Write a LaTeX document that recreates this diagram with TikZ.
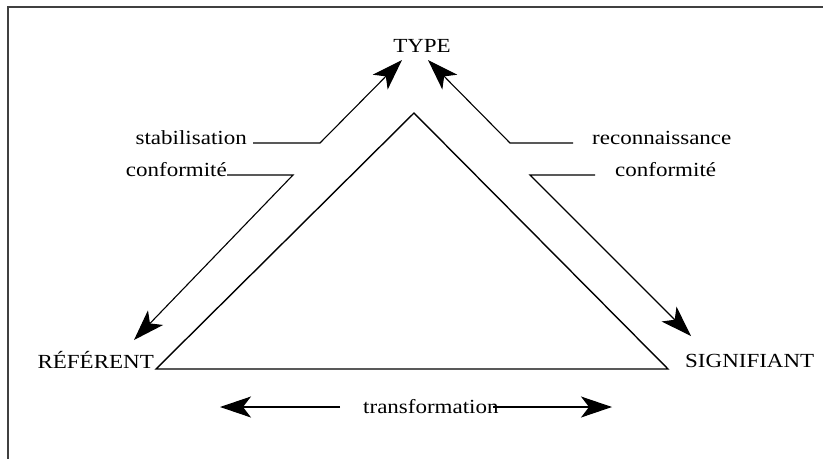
\documentclass[tikz,border=0pt]{standalone}
\usepackage{fontspec}
\setmainfont{Liberation Serif}[FakeStretch=1.15]
\usetikzlibrary{arrows.meta}
\tikzset{
  lbl/.style={inner sep=0pt, font=\fontsize{20}{24}\selectfont},
  thinline/.style={line width=1.1pt, black},
  arr/.style={thinline, -{Stealth[length=31pt,width=21pt,inset=8pt]}},
  tri/.style={line width=1.4pt, black, line join=miter},
  frame/.style={line width=2pt, black!75}
}
\begin{document}
\begin{tikzpicture}[x=1pt,y=-1pt]
\useasboundingbox (0,0) rectangle (823,459);
\draw[frame] (823,7) -- (8,7) -- (8,459);

% labels
\node[lbl, anchor=base] (type) at (422,52) {TYPE};
\node[lbl, anchor=base east] (ref) at (154,368) {RÉFÉRENT};
\node[lbl, anchor=base west] (sig) at (685,367) {SIGNIFIANT};
\node[lbl, anchor=base east] (stab) at (247,144) {stabilisation};
\node[lbl, anchor=base east] (confL) at (227,176) {conformité};
\node[lbl, anchor=base west] (reco) at (592,144) {reconnaissance};
\node[lbl, anchor=base west] (confR) at (615,176) {conformité};
\node[lbl, anchor=base west] (trans) at (363,413) {transformation};

% triangle
\coordinate (apex) at (414,113);
\coordinate (bl) at (156,369);
\coordinate (br) at (668,369);
\draw[tri] (bl) -- (apex) -- (br) -- cycle;

% arrow end points
\coordinate (s0) at (253,143);
\coordinate (s1) at (320,143);
\coordinate (tipTL) at (402,60);
\coordinate (c0) at (227,175);
\coordinate (c1) at (293,175);
\coordinate (tipRef) at (134,340);
\coordinate (r0) at (573,143);
\coordinate (r1) at (510,143);
\coordinate (tipTR) at (428,60);
\coordinate (d0) at (595,175);
\coordinate (d1) at (530,175);
\coordinate (tipSig) at (691,336);
\coordinate (tl0) at (340,407);
\coordinate (tl1) at (220,407);
\coordinate (tr0) at (493,407);
\coordinate (tr1) at (612,407);

\draw[arr] (s0) -- (s1) -- (tipTL);
\draw[arr] (c0) -- (c1) -- (tipRef);
\draw[arr] (r0) -- (r1) -- (tipTR);
\draw[arr] (d0) -- (d1) -- (tipSig);
\draw[arr] (tl0) -- (tl1);
\draw[arr] (tr0) -- (tr1);
\end{tikzpicture}
\end{document}
